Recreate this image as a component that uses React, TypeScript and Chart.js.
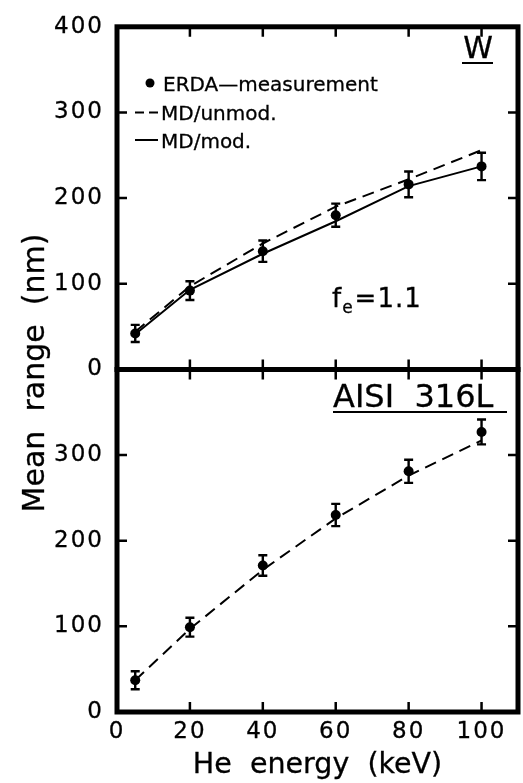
import React, { useEffect, useRef } from "react";
import { Chart, registerables } from "chart.js";

Chart.register(...registerables);

// ---- data ----
const energies = [5, 20, 40, 60, 80, 100];
const wErda = [42, 92, 138, 180, 216, 237];
const wErdaErr = [10, 11, 12.5, 13.5, 15, 16];
const wMdUnmod = [44, 97, 147, 190, 222, 256];
const wMdMod = [41, 93, 135, 173, 214, 237];
const sErda = [37, 99, 171, 230, 281, 327];
const sErdaErr = [10.5, 11, 12, 13, 13.5, 14.5];
const sMdUnmod = [37, 97, 166, 226, 276, 317];

const xTicks = [0, 20, 40, 60, 80, 100];
const yTopTicks = [0, 100, 200, 300, 400];
const yBotTicks = [0, 100, 200, 300];

const legendLabels = ["ERDA\u2014measurement", "MD/unmod.", "MD/mod."];
const topPanelLabel = "W";
const botPanelLabel = "AISI  316L";
const xTitle = "He  energy  (keV)";
const yTitle = "Mean  range  (nm)";

const FONT = '"DejaVu Sans", sans-serif';
const TEXT_STROKE = 0.3;

const toPoints = (ys: number[]) => energies.map((x, i) => ({ x, y: ys[i] }));

const framePlugin = {
  id: "framePlugin",
  beforeDraw(chart: any) {
    chart.ctx.letterSpacing = "2px";
  },
  afterDatasetsDraw(chart: any) {
    const { ctx, scales } = chart;
    ctx.save();
    ctx.letterSpacing = "0px";
    ctx.strokeStyle = "#000";
    ctx.lineWidth = 2.4;
    const drawErr = (vals: number[], errs: number[], ys: any) => {
      energies.forEach((e, i) => {
        const px = scales.x.getPixelForValue(e);
        const p1 = ys.getPixelForValue(vals[i] - errs[i]);
        const p2 = ys.getPixelForValue(vals[i] + errs[i]);
        ctx.beginPath();
        ctx.moveTo(px, p1);
        ctx.lineTo(px, p2);
        ctx.moveTo(px - 4.5, p1);
        ctx.lineTo(px + 4.5, p1);
        ctx.moveTo(px - 4.5, p2);
        ctx.lineTo(px + 4.5, p2);
        ctx.stroke();
      });
    };
    drawErr(wErda, wErdaErr, scales.yTop);
    drawErr(sErda, sErdaErr, scales.yBot);
    ctx.restore();
  },
  afterDraw(chart: any) {
    const { ctx, chartArea: a, scales } = chart;
    ctx.save();
    ctx.letterSpacing = "0px";
    ctx.strokeStyle = "#000";
    ctx.fillStyle = "#000";
    // frame
    ctx.lineWidth = 5;
    ctx.strokeRect(a.left, a.top, a.right - a.left, a.bottom - a.top);
    const mid = scales.yTop.bottom;
    ctx.beginPath();
    ctx.moveTo(a.left - 2.5, mid);
    ctx.lineTo(a.right + 2.5, mid);
    ctx.stroke();
    // ticks
    ctx.lineWidth = 2.5;
    const T = 10;
    ctx.beginPath();
    xTicks.forEach((v) => {
      if (v <= 0) return;
      const px = scales.x.getPixelForValue(v);
      ctx.moveTo(px, a.top);
      ctx.lineTo(px, a.top + T);
      ctx.moveTo(px, mid - T);
      ctx.lineTo(px, mid + T);
      ctx.moveTo(px, a.bottom - T);
      ctx.lineTo(px, a.bottom);
    });
    yTopTicks.forEach((v) => {
      if (v <= 0 || v >= 400) return;
      const py = scales.yTop.getPixelForValue(v);
      ctx.moveTo(a.left, py);
      ctx.lineTo(a.left + T, py);
      ctx.moveTo(a.right - T, py);
      ctx.lineTo(a.right, py);
    });
    yBotTicks.forEach((v) => {
      if (v <= 0) return;
      const py = scales.yBot.getPixelForValue(v);
      ctx.moveTo(a.left, py);
      ctx.lineTo(a.left + T, py);
      ctx.moveTo(a.right - T, py);
      ctx.lineTo(a.right, py);
    });
    ctx.stroke();

    const text = (s: string, x: number, y: number) => {
      ctx.save();
      ctx.lineWidth = TEXT_STROKE;
      ctx.strokeText(s, x, y);
      ctx.restore();
      ctx.fillText(s, x, y);
    };

    // legend
    ctx.font = `20px ${FONT}`;
    ctx.textBaseline = "alphabetic";
    ctx.textAlign = "left";
    ctx.beginPath();
    ctx.arc(150, 83, 4.5, 0, Math.PI * 2);
    ctx.fill();
    text(legendLabels[0], 163, 90.5);
    ctx.lineWidth = 2;
    ctx.setLineDash([9, 5]);
    ctx.beginPath();
    ctx.moveTo(135, 112.5);
    ctx.lineTo(158, 112.5);
    ctx.stroke();
    ctx.setLineDash([]);
    text(legendLabels[1], 161, 120);
    ctx.beginPath();
    ctx.moveTo(135, 140);
    ctx.lineTo(158, 140);
    ctx.stroke();
    text(legendLabels[2], 161, 147.5);

    // panel labels
    ctx.font = `30px ${FONT}`;
    ctx.textAlign = "center";
    text(topPanelLabel, 478, 58);
    ctx.lineWidth = 2;
    ctx.beginPath();
    ctx.moveTo(462, 63);
    ctx.lineTo(493, 63);
    ctx.stroke();

    ctx.font = `32px ${FONT}`;
    ctx.textAlign = "left";
    text(botPanelLabel, 333, 407);
    ctx.lineWidth = 2;
    ctx.beginPath();
    ctx.moveTo(333, 412);
    ctx.lineTo(507, 412);
    ctx.stroke();

    // f_e = 1.1
    ctx.letterSpacing = "1px";
    ctx.font = `26px ${FONT}`;
    let x = 332;
    text("f", x, 307);
    x += ctx.measureText("f").width;
    ctx.font = `17px ${FONT}`;
    text("e", x, 313);
    x += ctx.measureText("e").width + 1;
    ctx.font = `26px ${FONT}`;
    text("=1.1", x, 307);
    ctx.letterSpacing = "0px";

    // axis titles
    ctx.font = `28.5px ${FONT}`;
    ctx.textAlign = "center";
    text(xTitle, (a.left + a.right) / 2, 773);
    ctx.save();
    ctx.font = `30px ${FONT}`;
    ctx.translate(44, 373);
    ctx.rotate(-Math.PI / 2);
    text(yTitle, 0, 0);
    ctx.restore();

    ctx.restore();
  },
};

export default function App() {
  const ref = useRef<HTMLCanvasElement | null>(null);
  useEffect(() => {
    if (!ref.current) return;
    const tickOpts = {
      font: { family: FONT, size: 23 },
      color: "#000",
      autoSkip: false,
      textStrokeColor: "#000",
      textStrokeWidth: TEXT_STROKE,
    };
    const chart = new Chart(ref.current, {
      type: "line",
      data: {
        datasets: [
          {
            label: legendLabels[0],
            data: toPoints(wErda),
            xAxisID: "x",
            yAxisID: "yTop",
            showLine: false,
            pointRadius: 5,
            pointBackgroundColor: "#000",
            pointBorderWidth: 0,
            borderColor: "#000",
          },
          {
            label: legendLabels[1],
            data: toPoints(wMdUnmod),
            xAxisID: "x",
            yAxisID: "yTop",
            borderColor: "#000",
            borderWidth: 2,
            borderDash: [12, 7],
            pointRadius: 0,
            tension: 0,
          },
          {
            label: legendLabels[2],
            data: toPoints(wMdMod),
            xAxisID: "x",
            yAxisID: "yTop",
            borderColor: "#000",
            borderWidth: 2,
            pointRadius: 0,
            tension: 0,
          },
          {
            label: legendLabels[0] + " (AISI 316L)",
            data: toPoints(sErda),
            xAxisID: "x",
            yAxisID: "yBot",
            showLine: false,
            pointRadius: 5,
            pointBackgroundColor: "#000",
            pointBorderWidth: 0,
            borderColor: "#000",
          },
          {
            label: legendLabels[1] + " (AISI 316L)",
            data: toPoints(sMdUnmod),
            xAxisID: "x",
            yAxisID: "yBot",
            borderColor: "#000",
            borderWidth: 2,
            borderDash: [12, 7],
            pointRadius: 0,
            tension: 0,
          },
        ],
      },
      options: {
        responsive: false,
        animation: false,
        events: [],
        layout: { padding: { left: 0, top: 21, right: 2, bottom: 0 } },
        plugins: {
          legend: { display: false },
          tooltip: { enabled: false },
          title: { display: false },
        },
        scales: {
          x: {
            type: "linear",
            position: "bottom",
            min: 0,
            max: 110,
            grid: { display: false, drawTicks: false },
            border: { display: false },
            afterBuildTicks: (s: any) => {
              s.ticks = xTicks.map((v) => ({ value: v }));
            },
            ticks: { ...tickOpts, padding: 6, maxRotation: 0 },
            afterFit: (s: any) => {
              s.height = 71;
            },
          },
          yBot: {
            type: "linear",
            position: "left",
            stack: "panels",
            stackWeight: 1,
            min: 0,
            max: 400,
            grid: { display: false, drawTicks: false },
            border: { display: false },
            afterBuildTicks: (s: any) => {
              s.ticks = yBotTicks.map((v) => ({ value: v }));
            },
            ticks: { ...tickOpts, padding: 13 },
            afterFit: (s: any) => {
              s.width = 117;
            },
          },
          yTop: {
            type: "linear",
            position: "left",
            stack: "panels",
            stackWeight: 1,
            min: 0,
            max: 400,
            grid: { display: false, drawTicks: false },
            border: { display: false },
            afterBuildTicks: (s: any) => {
              s.ticks = yTopTicks.map((v) => ({ value: v }));
            },
            ticks: { ...tickOpts, padding: 13 },
            afterFit: (s: any) => {
              s.width = 117;
            },
          },
        },
      },
      plugins: [framePlugin],
    } as any);
    return () => chart.destroy();
  }, []);
  return (
    <div style={{ position: "absolute", left: 0, top: 0, width: 523, height: 783, background: "#fff" }}>
      <canvas ref={ref} width={523} height={783} style={{ display: "block" }} />
    </div>
  );
}
